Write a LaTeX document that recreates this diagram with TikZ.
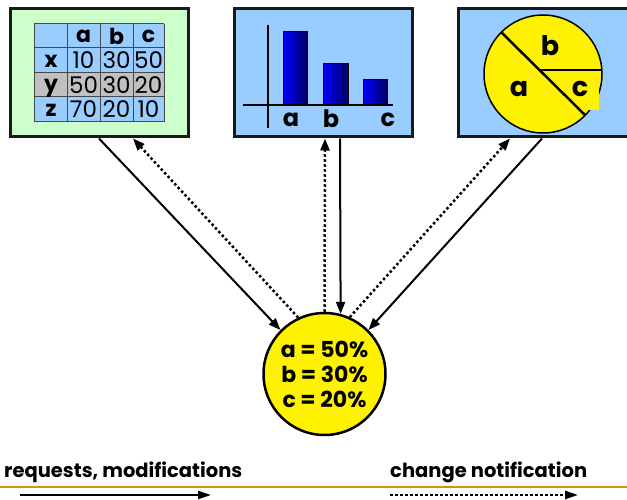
\documentclass[tikz,border=0pt]{standalone}
\usepackage{fontspec}
\setmainfont{Poppins}
\usetikzlibrary{arrows.meta,calc}
\definecolor{panelgreen}{HTML}{CCFFCC}
\definecolor{panelblue}{HTML}{99CCFF}
\definecolor{cellgray}{HTML}{C0C0C0}
\definecolor{rulegold}{HTML}{CC9900}
\definecolor{barblue}{HTML}{0000FF}
\definecolor{barnavy}{HTML}{000066}
\definecolor{edge}{HTML}{1A1A1A}
\tikzset{
  panel/.style={draw=edge, line width=3pt, minimum width=178pt, minimum height=128pt, inner sep=0pt},
  cellline/.style={draw=edge!80, line width=1pt},
  hdr/.style={inner sep=0pt, font=\fontsize{22}{22}\selectfont\bfseries},
  num/.style={inner sep=0pt, font=\fontsize{23}{23}\selectfont},
  bigl/.style={inner sep=0pt, font=\fontsize{24}{24}\selectfont\bfseries},
  piel/.style={inner sep=0pt, font=\fontsize{27}{27}\selectfont\bfseries},
  bar/.style={draw=black, line width=1pt, left color=barblue, right color=barnavy},
  req/.style={line width=2pt, -{Triangle[length=12pt,width=9pt]}},
  note/.style={line width=2.5pt, dash pattern=on 2.5pt off 2.5pt, -{Triangle[length=12pt,width=9pt]}},
  legendreq/.style={line width=2pt, -{Triangle[length=13pt,width=8pt]}},
  legendnote/.style={line width=2.5pt, dash pattern=on 2.5pt off 2.5pt, -{Triangle[length=13pt,width=8pt]}},
  legendtxt/.style={anchor=west, inner sep=0pt, font=\fontsize{19.5}{19.5}\selectfont\bfseries},
}
\begin{document}
\begin{tikzpicture}[x=1pt,y=-1pt]
\useasboundingbox (0,0) rectangle (627,500);
\clip (0,0) rectangle (627,500);

% ---- table view ----
\node[panel, fill=panelgreen] (box1) at (99,73) {};
\fill[panelblue] (34,24) rectangle (164,122);
\fill[cellgray] (34,73) rectangle (164,97);
\foreach \x in {34,67,100,133,164} \draw[cellline] (\x,24) -- (\x,122);
\foreach \y in {24,48,73,97,122} \draw[cellline] (34,\y) -- (164,\y);
\foreach \t/\x in {a/83.5,b/116.5,c/148.5}
  \node[hdr] (col-\t) at (\x,36) {\t};
\foreach \t/\y in {x/60.5,y/85,z/109.5}
  \node[hdr, anchor=base] (row-\t) at (51,\y+7) {\t};
\foreach \r/\y/\p/\q/\s in {x/60.5/10/30/50, y/85/50/30/20, z/109.5/70/20/10}{
  \node[num] (v-\r-a) at (83.5,\y) {\p};
  \node[num] (v-\r-b) at (116.5,\y) {\q};
  \node[num] (v-\r-c) at (148.5,\y) {\s};
}

% ---- bar chart view ----
\node[panel, fill=panelblue] (box2) at (323.5,73) {};
\draw[line width=1.5pt] (268,25) -- (268,128);
\draw[line width=1.5pt] (243,105) -- (393,105);
\shade[bar] (283,32) rectangle (307,105);
\shade[bar] (323,64) rectangle (348,105);
\shade[bar] (363,80) rectangle (387,105);
\node[bigl] (bar-a) at (291,120) {a};
\node[bigl] (bar-b) at (331,119) {b};
\node[bigl] (bar-c) at (388,120) {c};

% ---- pie chart view ----
\node[panel, fill=panelblue] (box3) at (547.5,73) {};
\draw[fill=yellow, line width=1.5pt] (543,74) circle[radius=59];
\fill[yellow] (586,82) rectangle (599,110);
\draw[line width=2.5pt] (501,32) -- (585,115);
\draw[line width=2.5pt] (540,70) -- (602,70);
\node[piel] (pie-b) at (550,46) {b};
\node[piel] (pie-a) at (519,89) {a};
\node[piel] (pie-c) at (580,89) {c};

% ---- shared data ----
\node[circle, draw=black, line width=2.5pt, fill=yellow, minimum size=122pt, inner sep=0pt,
      align=center, font=\fontsize{22}{25}\selectfont\bfseries] (data) at (324.5,374)
      {a = 50\%\\ b = 30\%\\ c = 20\%};

% ---- connectors ----
\draw[req]  (box1.south) -- (data.135);
\draw[note] (data.115) -- ([xshift=34pt]box1.south);
\draw[note] (data.90) -- ([xshift=1.5pt]box2.south);
\draw[req]  ([xshift=16.5pt]box2.south) -- (data.75);
\draw[note] (data.66) -- ([xshift=-37.5pt]box3.south);
\draw[req]  ([xshift=-5.5pt]box3.south) -- (data.45);

% ---- legend ----
\draw[rulegold, line width=2pt] (0,487) -- (627,487);
\node[legendtxt] (lg-req) at (4,472) {requests, modifications};
\node[legendtxt] (lg-note) at (390,472) {change notification};
\coordinate (req-a) at (20,495);
\coordinate (req-b) at (211,495);
\coordinate (note-a) at (390,495);
\coordinate (note-b) at (578,495);
\draw[legendreq] (req-a) -- (req-b);
\draw[legendnote] (note-a) -- (note-b);
\end{tikzpicture}
\end{document}
